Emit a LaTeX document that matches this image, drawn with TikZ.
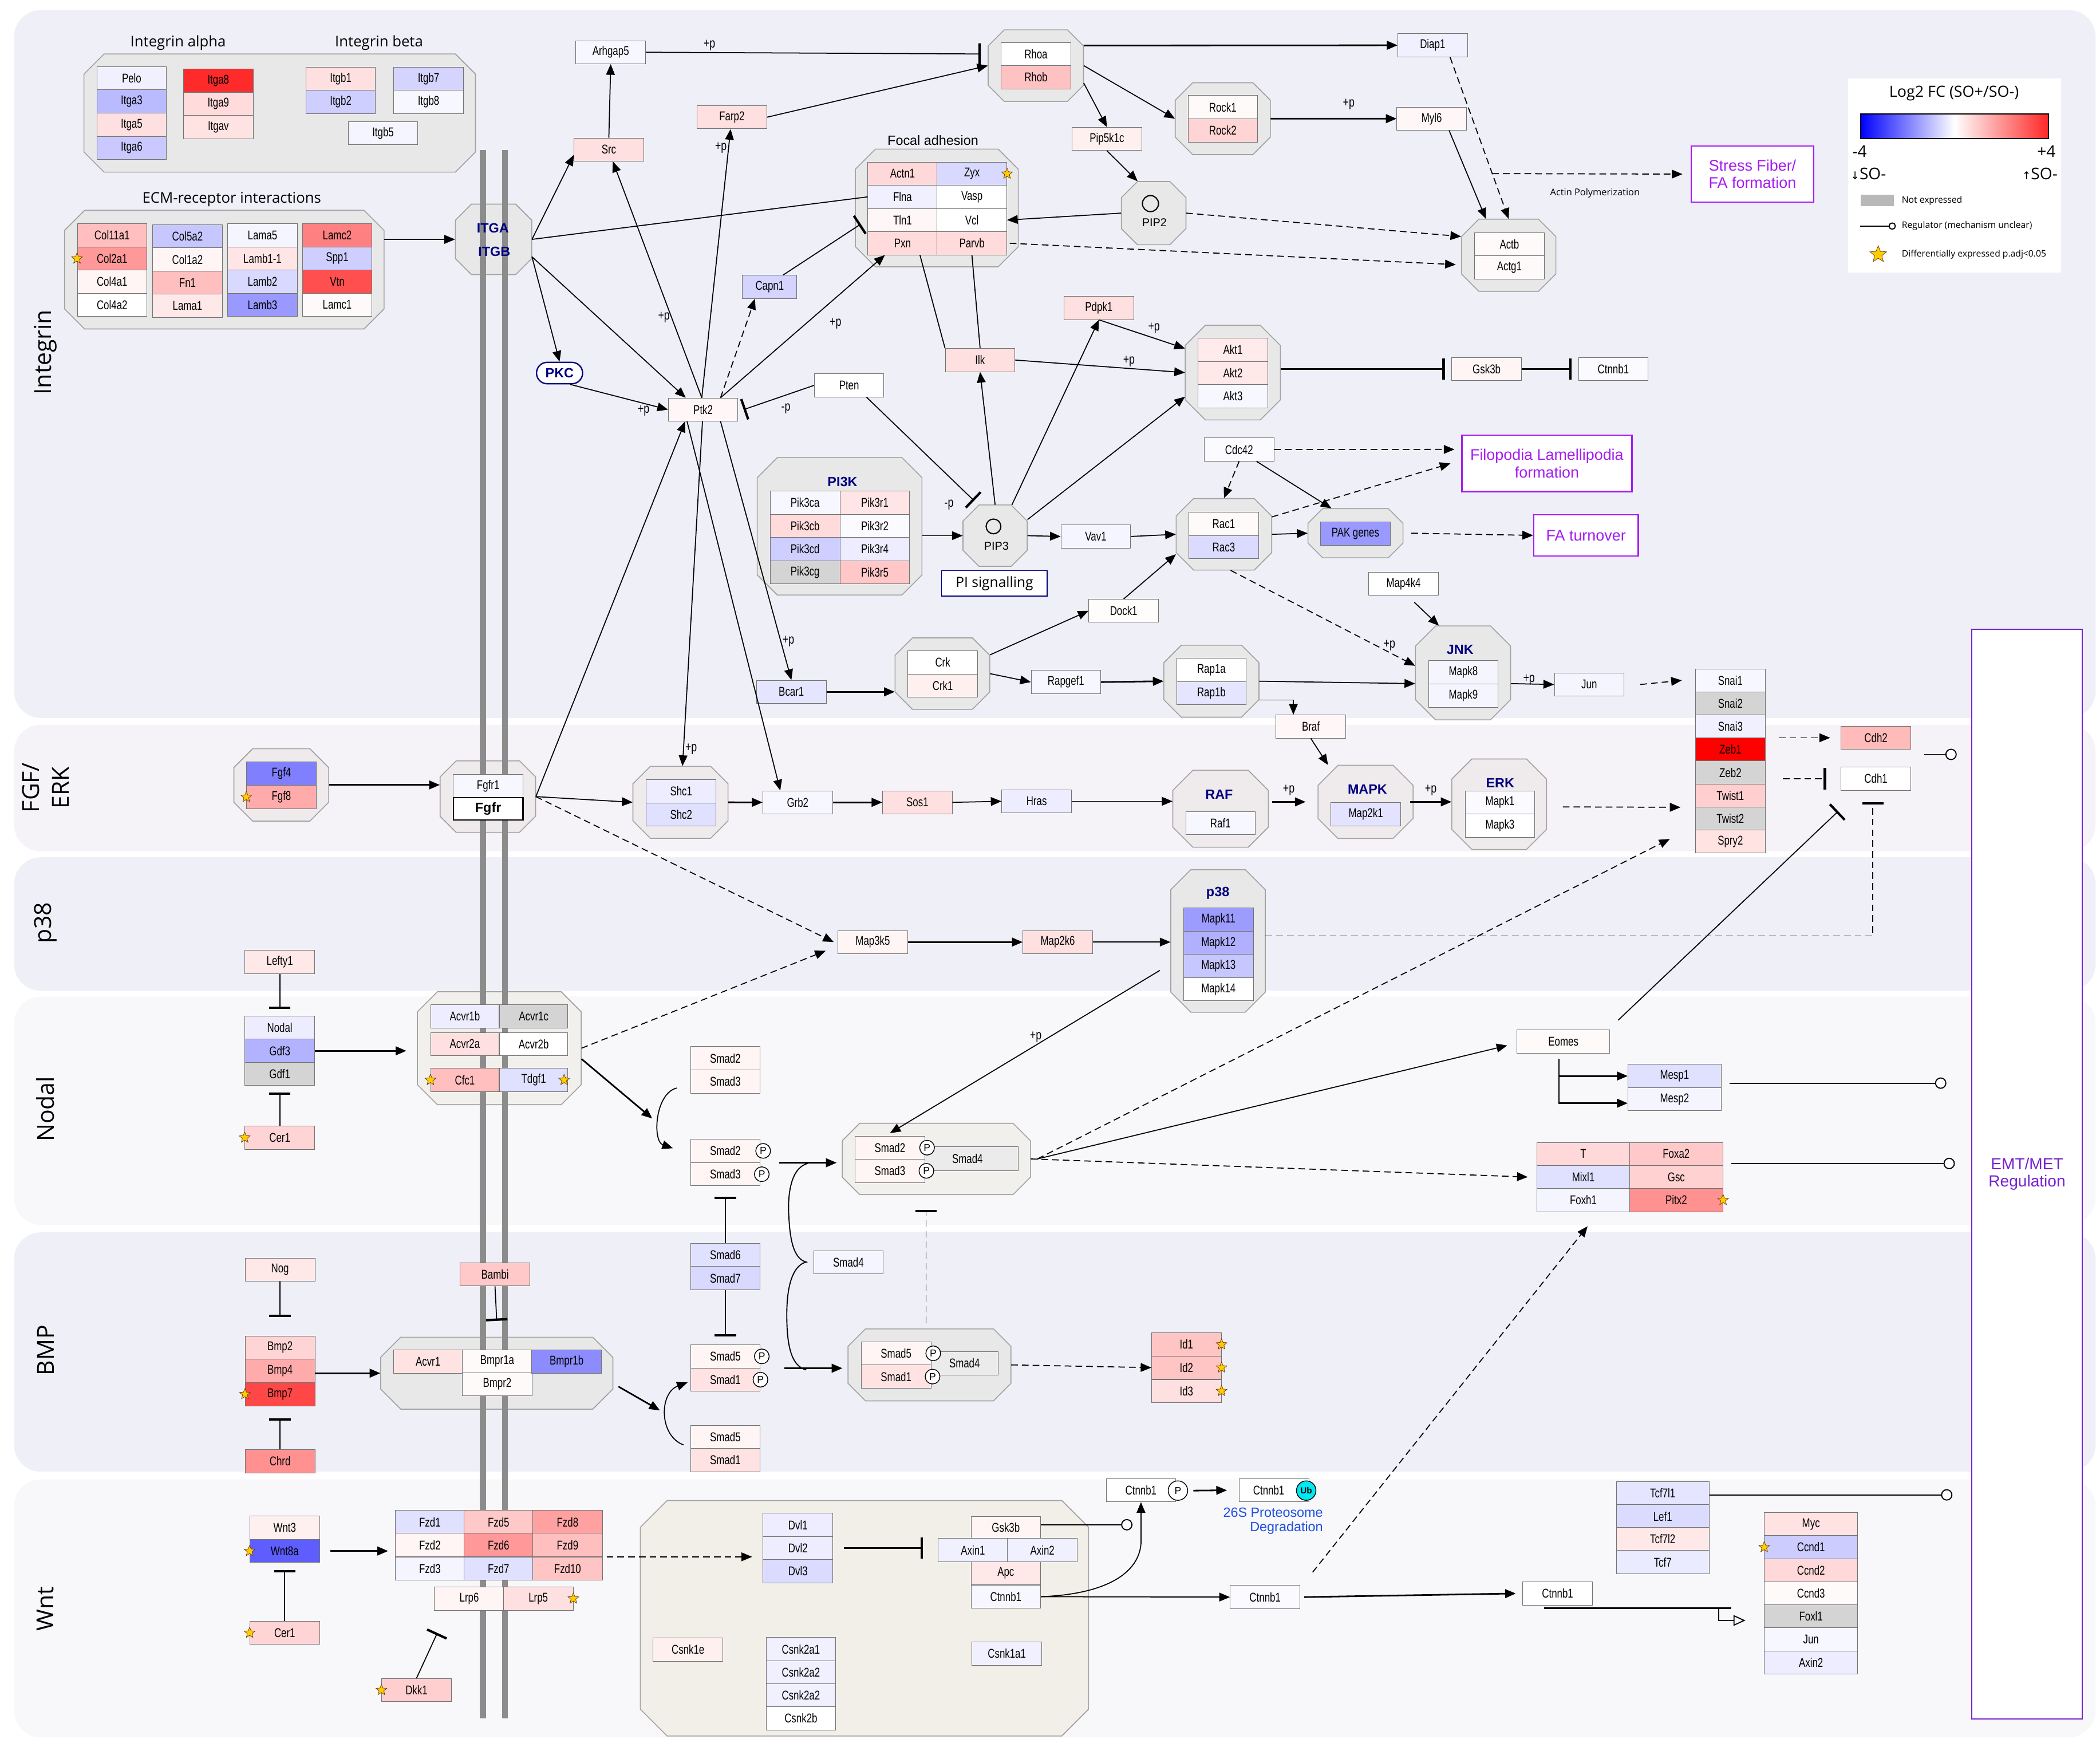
\documentclass[tikz,border=0pt]{standalone}
\usepackage{fontspec}
\setmainfont{Liberation Sans}
\newfontfamily\osans{Open Sans}
\newfontfamily\dvsans{DejaVu Sans}
\newfontfamily\genefam[FakeStretch=0.76]{Liberation Sans}
\usepackage{tikz}
\usetikzlibrary{positioning,arrows.meta,shapes.geometric,calc}
\definecolor{lanea}{HTML}{EFEFF8}
\definecolor{laneb}{HTML}{F6F3F8}
\definecolor{lanec}{HTML}{F8F7FA}
\definecolor{grpa}{HTML}{E8E8E8}
\definecolor{grpb}{HTML}{EFEBEC}
\definecolor{grpc}{HTML}{F2F0EC}
\definecolor{grpd}{HTML}{F2EFE9}
\definecolor{grpline}{HTML}{A3A3A3}
\definecolor{membr}{HTML}{8C8C8C}
\definecolor{cxblue}{HTML}{000080}
\definecolor{fate}{HTML}{A41CF2}
\definecolor{emt}{HTML}{7722D0}
\definecolor{degblue}{HTML}{1F4FE0}
\definecolor{starfill}{HTML}{FFCC00}
\definecolor{ubcyan}{HTML}{00E8F0}
\newcommand\genefont{\genefam\fontsize{9.5}{10}\selectfont}
% chamfered group box: [cut]{name}{style}{x1}{y1}{x2}{y2}
\newcommand\cplx[7][15]{%
  \draw[#3] (#4+#1,#5) -- (#6-#1,#5) -- (#6,#5+#1) -- (#6,#7-#1) -- (#6-#1,#7)
    -- (#4+#1,#7) -- (#4,#7-#1) -- (#4,#5+#1) -- cycle;
  \node[inner sep=0pt, minimum width=#6-#4, minimum height=#7-#5] (#2) at ({(#4+#6)/2},{(#5+#7)/2}) {};}

\begin{document}
\begin{tikzpicture}[x=1pt, y=-1pt,
  gene/.style={draw=black!55, line width=.4pt, minimum width=52pt, minimum height=17.3pt,
               inner sep=0pt, font=\genefont},
  wgene/.style={gene, minimum width=69.5pt},
  ng/.style={fill=black!17},
  ga/.style={fill=grpa, draw=grpline, line width=.7pt},
  gb/.style={ga, fill=grpb},
  gc/.style={ga, fill=grpc},
  gd/.style={ga, fill=grpd},
  cx/.style={font=\bfseries\fontsize{10}{10}\selectfont, text=cxblue, inner sep=0pt},
  hd/.style={font=\osans\fontsize{11}{12}\selectfont},
  lane/.style={rounded corners=20pt},
  lanelab/.style={font=\osans\fontsize{17.5}{22}\selectfont, rotate=90, align=center},
  arr/.style={-{Triangle[length=8pt,width=6.5pt]}, line width=.75pt},
  thk/.style={line width=1.2pt},
  dsh/.style={dash pattern=on 5pt off 3pt},
  inh/.style={-{Bar[width=16pt,line width=1.8pt]}, line width=.75pt},
  reg/.style={-{Circle[length=8.5pt,fill=white]}, line width=.8pt},
  lab/.style={font=\genefam\fontsize{10}{10}\selectfont, inner sep=1pt},
  dexp/.style={star, star points=5, star point ratio=2.3, minimum size=8.5pt, inner sep=0pt,
               fill=starfill, draw=black!60!orange, line width=.3pt},
  phos/.style={circle, draw, fill=white, line width=.6pt, minimum size=11pt, inner sep=0pt,
               font=\fontsize{7.5}{7.5}\selectfont},
  fatebox/.style={draw=fate, line width=1pt, fill=white, text=fate, align=center,
                  font=\fontsize{11.5}{13}\selectfont, inner sep=0pt},
  lip/.style={circle, draw, line width=.9pt, minimum size=12pt, inner sep=0pt}]
  \useasboundingbox (0,0) rectangle (1568,1298);
  % lanes
  \fill[lanea, lane] (10.5,7.5) rectangle (1564.7,536);
  \fill[laneb, lane] (10.5,541) rectangle (1564.7,635.6);
  \fill[lanea, lane] (10.5,640) rectangle (1564.7,739.7);
  \fill[lanec, lane] (10.5,744) rectangle (1564.7,914.4);
  \fill[lanea, lane] (10.5,920) rectangle (1564.7,1098.7);
  \fill[lanec, lane] (10.5,1104.4) rectangle (1564.7,1297);
  \node[lanelab] (lbint) at (34,263) {Integrin};
  \node[lanelab] (lbfgf) at (34,588) {FGF/\\ERK};
  \node[lanelab] (lbp38) at (34,689) {p38};
  \node[lanelab] (lbnod) at (34,828) {Nodal};
  \node[lanelab] (lbbmp) at (34,1008) {BMP};
  \node[lanelab] (lbwnt) at (34,1201) {Wnt};

  % complexes
  \cplx{intg}{ga}{62.7}{40.3}{355}{128.5}
  \cplx{ecm}{ga}{48.2}{157}{286.8}{245.6}
  \cplx[12]{itg}{ga}{340}{152.4}{397}{205}
  \cplx[12]{rho}{ga}{737.8}{22.3}{809}{75.7}
  \cplx[13]{rock}{ga}{877.5}{61.8}{948.5}{115.4}
  \cplx[12]{pip2}{ga}{837.3}{135.5}{885.5}{182.7}
  \cplx{fa}{ga}{638.7}{111.3}{760.3}{199.2}
  \cplx[13]{actb}{ga}{1091.2}{163.6}{1161.7}{217.5}
  \cplx{akt}{ga}{885}{242.8}{956}{313.5}
  \cplx{pi3k}{ga}{565.4}{341.6}{688.4}{444.2}
  \cplx[12]{pip3}{ga}{719}{377}{767}{422.8}
  \cplx[13]{rac}{ga}{878.2}{372.2}{949.5}{425.6}
  \cplx[11]{pak}{ga}{976.6}{379.7}{1047.6}{416.4}
  \cplx[13]{crk}{ga}{668.3}{476.2}{739}{529.6}
  \cplx[13]{rap}{ga}{869}{481.7}{940}{535.4}
  \cplx{jnk}{ga}{1056.9}{467.3}{1127.9}{537.4}
  \cplx[14]{fgf}{gb}{174.6}{559}{245.4}{613}
  \cplx[12]{fgfr}{gb}{328.6}{568}{399.9}{621.4}
  \cplx[13]{shc}{gb}{472.6}{572.1}{543.6}{625.8}
  \cplx{raf}{gb}{875.7}{575}{947}{632.5}
  \cplx{mapk}{gb}{984.1}{571.3}{1055.1}{626}
  \cplx{erk}{gb}{1084}{566.6}{1154.7}{634.2}
  \cplx{p38g}{ga}{874.2}{649.2}{944.7}{755.7}
  \cplx{acvr}{gc}{311.6}{740.4}{434}{824.7}
  \cplx[13]{sc234}{gc}{628.9}{838.6}{769.4}{891.8}
  \cplx{bmpr}{ga}{284.2}{998.3}{457.6}{1052}
  \cplx[13]{sc154}{ga}{633.2}{992.1}{754.8}{1045.8}
  \cplx[20]{dcx}{gd}{478.1}{1120.2}{812.8}{1296}

  % membrane
  \draw[membr, line width=4.5pt] (360.5,112) -- (360.5,1283) (377,112) -- (377,1283);

  % integrin alpha / beta
  \node[hd] (hintga) at (133,32) {Integrin alpha};
  \node[hd] (hintgb) at (283,32) {Integrin beta};
  \node[gene,fill=blue!6]  (pelo)  at (98.3,58.4)  {Pelo};
  \node[gene,fill=blue!27] (itga3) at (98.3,75.7)  {Itga3};
  \node[gene,fill=red!12]  (itga5) at (98.3,93.1)  {Itga5};
  \node[gene,fill=blue!21] (itga6) at (98.3,110.5) {Itga6};
  \node[gene,fill=red!83]  (itga8) at (163,60.1)   {Itga8};
  \node[gene,fill=red!14]  (itga9) at (163,77.5)   {Itga9};
  \node[gene,fill=red!11]  (itgav) at (163,94.9)   {Itgav};
  \node[gene,fill=red!12]  (itgb1) at (254.4,58.7) {Itgb1};
  \node[gene,fill=blue!19] (itgb2) at (254.4,76)   {Itgb2};
  \node[gene,fill=blue!17] (itgb7) at (320,58.7)   {Itgb7};
  \node[gene,fill=blue!3]  (itgb8) at (320,76)     {Itgb8};
  \node[gene,fill=blue!4]  (itgb5) at (286,99.3)   {Itgb5};

  % ECM
  \node[hd] (hecm) at (173,148.8) {ECM-receptor interactions};
  \node[gene,fill=red!25]  (col11a1) at (83.7,175.7) {Col11a1};
  \node[gene,fill=red!40]  (col2a1)  at (83.7,193)   {Col2a1};
  \node[gene,fill=red!4]   (col4a1)  at (83.7,210.3) {Col4a1};
  \node[gene,fill=white]   (col4a2)  at (83.7,227.6) {Col4a2};
  \node[gene,fill=blue!22] (col5a2)  at (140,176.4)  {Col5a2};
  \node[gene,fill=red!4]   (col1a2)  at (140,193.7)  {Col1a2};
  \node[gene,fill=red!25]  (fn1)     at (140,211)    {Fn1};
  \node[gene,fill=red!9]   (lama1)   at (140,228.3)  {Lama1};
  \node[gene,fill=blue!4]  (lama5)   at (196,175.7)  {Lama5};
  \node[gene,fill=red!10]  (lamb11)  at (196,193)    {Lamb1-1};
  \node[gene,fill=blue!15] (lamb2)   at (196,210.3)  {Lamb2};
  \node[gene,fill=blue!40] (lamb3)   at (196,227.6)  {Lamb3};
  \node[gene,fill=red!50]  (lamc2)   at (251.8,175.7) {Lamc2};
  \node[gene,fill=blue!19] (spp1)    at (251.8,193)   {Spp1};
  \node[gene,fill=red!69]  (vtn)     at (251.8,210.3) {Vtn};
  \node[gene,fill=red!2]   (lamc1)   at (251.8,227.6) {Lamc1};
  \node[dexp] (col2a1st) at (col2a1.west) {};
  \node[cx] (itgatx) at (368,170.5) {ITGA};
  \node[cx] (itgbtx) at (369,187.8) {ITGB};

  % integrin signalling
  \node[gene,fill=blue!3]  (arhgap5) at (456,39)     {Arhgap5};
  \node[gene,fill=red!12]  (src)     at (454.6,111.7) {Src};
  \node[gene,fill=red!12]  (farp2)   at (546.5,87.5) {Farp2};
  \node[gene,fill=white]   (rhoa)    at (773.5,40.3) {Rhoa};
  \node[gene,fill=red!24]  (rhob)    at (773.5,57.7) {Rhob};
  \node[gene,fill=blue!6]  (diap1)   at (1069.7,33.8) {Diap1};
  \node[gene,fill=red!2]   (rock1)   at (913,80)     {Rock1};
  \node[gene,fill=red!17]  (rock2)   at (913,97.4)   {Rock2};
  \node[gene,fill=red!3]   (myl6)    at (1069,88.6)  {Myl6};
  \node[gene,fill=red!6]   (pip5k1c) at (826.5,103.7) {Pip5k1c};
  \node[lip] (pip2c) at (859,152) {};
  \node[font=\fontsize{8.5}{9}\selectfont] (pip2tx) at (862,166) {PIP2};
  \node[font=\fontsize{10}{10}\selectfont] (hfa) at (696.6,104.9) {Focal adhesion};
  \node[gene,fill=red!15]  (actn1) at (673.9,129.7) {Actn1};
  \node[gene,fill=blue!6]  (flna)  at (673.9,147)   {Flna};
  \node[gene,fill=red!3]   (tln1)  at (673.9,164.3) {Tln1};
  \node[gene,fill=red!14]  (pxn)   at (673.9,181.6) {Pxn};
  \node[gene,fill=blue!15] (zyx)   at (725.7,129.7) {Zyx};
  \node[gene,fill=white]   (vasp)  at (725.7,147)   {Vasp};
  \node[gene,fill=white]   (vcl)   at (725.7,164.3) {Vcl};
  \node[gene,fill=red!14]  (parvb) at (725.7,181.6) {Parvb};
  \node[dexp] (zyxst) at (zyx.east) {};
  \node[gene,fill=red!2]   (actbg)  at (1127,182.2) {Actb};
  \node[gene,fill=red!2]   (actg1)  at (1127,199.6) {Actg1};
  \node[gene,fill=blue!17,minimum width=40.6pt] (capn1) at (574.7,214.2) {Capn1};
  \node[draw=cxblue, line width=1pt, fill=white, rounded corners=8pt, minimum width=34.4pt,
        minimum height=16pt, inner sep=0pt, font=\bfseries\fontsize{10}{10}\selectfont,
        text=cxblue] (pkc) at (417.8,278.5) {PKC};
  \node[gene,fill=red!3]   (ptk2)  at (525,305.8)   {Ptk2};
  \node[gene,fill=white]   (pten)  at (634,287.7)   {Pten};
  \node[gene,fill=red!12]  (ilk)   at (731.8,268.8) {Ilk};
  \node[gene,fill=red!12]  (pdpk1) at (820.5,229.9) {Pdpk1};
  \node[gene,fill=red!8]   (akt1)  at (920.6,261.1) {Akt1};
  \node[gene,fill=red!9]   (akt2)  at (920.6,278.4) {Akt2};
  \node[gene,fill=blue!3]  (akt3)  at (920.6,295.7) {Akt3};
  \node[gene,fill=red!4]   (gsk3b) at (1110,275.4)  {Gsk3b};
  \node[gene,fill=blue!2]  (ctnnbi) at (1204.6,275.4) {Ctnnb1};
  \node[cx] (pi3ktx) at (629,359.7) {PI3K};
  \node[gene,fill=blue!3]  (pik3ca) at (601.1,375.3) {Pik3ca};
  \node[gene,fill=red!14]  (pik3cb) at (601.1,392.6) {Pik3cb};
  \node[gene,fill=blue!19] (pik3cd) at (601.1,409.9) {Pik3cd};
  \node[gene,ng]           (pik3cg) at (601.1,427.2) {Pik3cg};
  \node[gene,fill=red!10]  (pik3r1) at (653.2,375.3) {Pik3r1};
  \node[gene,fill=blue!2]  (pik3r2) at (653.2,392.6) {Pik3r2};
  \node[gene,fill=blue!7]  (pik3r4) at (653.2,409.9) {Pik3r4};
  \node[gene,fill=red!22]  (pik3r5) at (653.2,427.2) {Pik3r5};
  \node[lip,minimum size=11pt] (pip3c) at (741.8,393) {};
  \node[font=\fontsize{8.5}{9}\selectfont] (pip3tx) at (744,407.5) {PIP3};
  \node[draw=cxblue, line width=.8pt, fill=white, minimum width=79pt, minimum height=19pt,
        inner sep=0pt, font=\osans\fontsize{10.5}{11}\selectfont] (pisig) at (742.5,435.5) {PI signalling};
  \node[gene,fill=blue!2]  (cdc42) at (925.2,335.6) {Cdc42};
  \node[gene,fill=red!2]   (rac1)  at (913.7,391.1) {Rac1};
  \node[gene,fill=blue!14] (rac3)  at (913.7,408.4) {Rac3};
  \node[gene,fill=blue!40] (pakg)  at (1012,398.3)  {PAK genes};
  \node[gene,fill=blue!4]  (vav1)  at (818.2,400.5) {Vav1};
  \node[gene,fill=red!1]   (dock1) at (839,456)     {Dock1};
  \node[gene,fill=white]   (map4k4) at (1048,435.8) {Map4k4};
  \node[gene,fill=blue!10] (bcar1) at (590.9,516.5) {Bcar1};
  \node[gene,fill=white]   (crkg)  at (703.9,494.6) {Crk};
  \node[gene,fill=red!6]   (crk1)  at (703.9,511.9) {Crk1};
  \node[gene,fill=blue!3]  (rapgef1) at (795.9,509.2) {Rapgef1};
  \node[gene,fill=white]   (rap1a) at (904.5,500.1) {Rap1a};
  \node[gene,fill=blue!10] (rap1b) at (904.5,517.4) {Rap1b};
  \node[gene,fill=red!3]   (braf)  at (978.7,542.4) {Braf};
  \node[cx] (jnktx) at (1090.2,485) {JNK};
  \node[gene,fill=blue!4]  (mapk8) at (1092.6,501.9) {Mapk8};
  \node[gene,fill=blue!4]  (mapk9) at (1092.6,519.3) {Mapk9};
  \node[gene,fill=blue!4]  (jun)   at (1186.6,511)   {Jun};
  \node[gene,fill=blue!3,minimum height=17.2pt]  (snai1)  at (1292,507.9) {Snai1};
  \node[gene,ng,minimum height=17.2pt]           (snai2)  at (1292,525.1) {Snai2};
  \node[gene,fill=blue!6,minimum height=17.2pt]  (snai3)  at (1292,542.3) {Snai3};
  \node[gene,fill=red,minimum height=17.2pt]     (zeb1)   at (1292,559.5) {Zeb1};
  \node[gene,ng,minimum height=17.2pt]           (zeb2)   at (1292,576.7) {Zeb2};
  \node[gene,fill=red!19,minimum height=17.2pt]  (twist1) at (1292,593.9) {Twist1};
  \node[gene,ng,minimum height=17.2pt]           (twist2) at (1292,611.1) {Twist2};
  \node[gene,fill=red!11,minimum height=17.2pt]  (spry2)  at (1292,628.3) {Spry2};

  % outcomes
  \node[fatebox, minimum width=127pt, minimum height=42pt] (filo) at (1155,346) {Filopodia Lamellipodia\\formation};
  \node[fatebox, minimum width=78pt, minimum height=30.6pt] (fato) at (1184.2,399.7) {FA turnover};
  \node[fatebox, minimum width=91.5pt, minimum height=42pt] (sfib) at (1308.5,130) {Stress Fiber/\\FA formation};
  \node[draw=emt, line width=1pt, fill=white, minimum width=82.4pt, minimum height=813.5pt, inner sep=0pt,
        text=emt, align=center, font=\fontsize{12}{13}\selectfont] (emtbox) at (1513.5,876.5) {EMT/MET\\Regulation};

  % legend
  \node[fill=white, minimum width=159pt, minimum height=145.2pt, inner sep=0pt] (legend) at (1459.5,131) {};
  \node[font=\osans\fontsize{11.5}{12}\selectfont] (legt) at (1459,69.5) {Log2 FC (SO+/SO-)};
  \shade[left color=blue, right color=red!85, middle color=white] (1389.2,85) rectangle (1529.6,103.5);
  \draw[line width=1pt] (1389.2,85) rectangle (1529.6,103.5);
  \node[font=\osans\fontsize{12}{12}\selectfont] (lgm) at (1388.5,113.2) {-4};
  \node[font=\osans\fontsize{12}{12}\selectfont] (lgp) at (1528,113.2) {+4};
  \node[font=\osans\fontsize{12}{12}\selectfont] (lgdn) at (1395,129.6) {{\dvsans\fontsize{8}{8}\selectfont ↓}SO-};
  \node[font=\osans\fontsize{12}{12}\selectfont] (lgup) at (1523,129.6) {{\dvsans\fontsize{8}{8}\selectfont ↑}SO-};
  \fill[black!28] (1389.2,145.5) rectangle (1414.3,153.8);
  \node[anchor=west, font=\osans\fontsize{6.7}{7}\selectfont] (lgne) at (1416.5,150) {Not expressed};
  \coordinate (lgr1) at (1389,168.8);
  \coordinate (lgr2) at (1415.6,168.8);
  \draw[-{Circle[length=5.5pt,fill=white]}, line width=.8pt] (lgr1) -- (lgr2);
  \node[anchor=west, font=\osans\fontsize{6.7}{7}\selectfont] (lgrg) at (1416.5,168.8) {Regulator (mechanism unclear)};
  \node[dexp, minimum size=13pt] (lgst) at (1402.4,190) {};
  \node[anchor=west, font=\osans\fontsize{6.7}{7}\selectfont] (lgde) at (1416.5,190) {Differentially expressed p.adj<0.05};

  % FGF / ERK
  \node[gene,fill=blue!50] (fgf4) at (210.1,577.6) {Fgf4};
  \node[gene,fill=red!33]  (fgf8) at (210.1,595)   {Fgf8};
  \node[dexp] (fgf8st) at (fgf8.west) {};
  \node[gene,fill=blue!3]  (fgfr1) at (364.5,586.8) {Fgfr1};
  \node[gene,fill=white,draw=black,line width=.9pt,minimum height=16.5pt,
        font=\bfseries\fontsize{10}{10}\selectfont] (fgfrb) at (364.5,603.8) {Fgfr};
  \node[gene,fill=blue!7]  (shc1) at (508.6,590.7) {Shc1};
  \node[gene,fill=blue!12] (shc2) at (508.6,608.1) {Shc2};
  \node[gene,fill=blue!3]  (grb2) at (595.6,599)   {Grb2};
  \node[gene,fill=red!12]  (sos1) at (685,599)     {Sos1};
  \node[gene,fill=blue!7]  (hras) at (774,598.2)   {Hras};
  \node[cx] (raftx) at (910.3,593) {RAF};
  \node[gene,fill=blue!3]  (raf1) at (911.3,614.5) {Raf1};
  \node[cx] (mapktx) at (1021,589.4) {MAPK};
  \node[gene,fill=blue!11] (map2k1) at (1019.8,607.8) {Map2k1};
  \node[cx] (erktx) at (1120.1,584.7) {ERK};
  \node[gene,fill=blue!2]  (mapk1) at (1120,599)   {Mapk1};
  \node[gene,fill=white]   (mapk3) at (1120,616.4) {Mapk3};
  \node[gene,fill=red!27]  (cdh2)  at (1400.7,550.8) {Cdh2};
  \node[gene,fill=white]   (cdh1)  at (1400.7,581.3) {Cdh1};

  % p38
  \node[gene,fill=red!4]   (map3k5) at (651.7,703.3) {Map3k5};
  \node[gene,fill=red!12]  (map2k6) at (789.8,703.3) {Map2k6};
  \node[cx] (p38tx) at (909.3,666.7) {p38};
  \node[gene,fill=blue!39] (mapk11) at (909.8,686.5) {Mapk11};
  \node[gene,fill=blue!31] (mapk12) at (909.8,703.8) {Mapk12};
  \node[gene,fill=blue!22] (mapk13) at (909.8,721.1) {Mapk13};
  \node[gene,fill=white]   (mapk14) at (909.8,738.4) {Mapk14};
  \node[gene,fill=red!9]   (lefty1) at (208.9,718.2) {Lefty1};

  % Nodal
  \node[gene,fill=blue!7]  (nodal) at (208.9,767.2) {Nodal};
  \node[gene,fill=blue!30] (gdf3)  at (208.9,784.5) {Gdf3};
  \node[gene,ng]           (gdf1)  at (208.9,801.8) {Gdf1};
  \node[gene,fill=red!17]  (cer1)  at (208.9,849.3) {Cer1};
  \node[dexp] (cer1st) at (cer1.west) {};
  \node[gene,fill=blue!7,minimum width=51pt]  (acvr1b) at (347.1,758.7) {Acvr1b};
  \node[gene,ng,minimum width=51pt]           (acvr1c) at (398.5,758.7) {Acvr1c};
  \node[gene,fill=red!12,minimum width=51pt]  (acvr2a) at (347.1,779.4) {Acvr2a};
  \node[gene,fill=white,minimum width=51pt]   (acvr2b) at (398.5,779.4) {Acvr2b};
  \node[gene,fill=red!25,minimum width=51pt]  (cfc1)   at (347.1,806.3) {Cfc1};
  \node[gene,fill=blue!12,minimum width=51pt] (tdgf1)  at (398.5,806.3) {Tdgf1};
  \node[dexp] (cfc1st) at (cfc1.west) {};
  \node[dexp] (tdgf1st) at ([xshift=-3pt]tdgf1.east) {};
  \node[gene,fill=red!4]   (smad2)  at (541.6,790)   {Smad2};
  \node[gene,fill=red!4]   (smad3)  at (541.6,807.4) {Smad3};
  \node[gene,fill=red!4]   (smad2p) at (541.6,859.2) {Smad2};
  \node[gene,fill=red!4]   (smad3p) at (541.6,876.6) {Smad3};
  \node[phos] (smad2pp) at ([xshift=2pt]smad2p.east) {P};
  \node[phos] (smad3pp) at ([xshift=1pt]smad3p.east) {P};
  \node[gene,fill=black!8,minimum width=70pt,minimum height=18pt] (smad4c) at (725.35,864.9) {\hspace*{-6pt}Smad4};
  \node[gene,fill=red!4]   (smad2c) at (664.5,856.8) {Smad2};
  \node[gene,fill=red!4]   (smad3c) at (664.5,874.1) {Smad3};
  \node[phos] (smad2cp) at ([xshift=1.5pt]smad2c.east) {P};
  \node[phos] (smad3cp) at ([xshift=1pt]smad3c.east) {P};
  \node[wgene,fill=red!2,minimum width=69.4pt] (eomes) at (1167.3,777.5) {Eomes};
  \node[wgene,fill=blue!12] (mesp1) at (1250.3,803.3) {Mesp1};
  \node[wgene,fill=blue!4]  (mesp2) at (1250.3,820.6) {Mesp2};
  \node[wgene,fill=red!15]  (tbra)  at (1182.2,861.5) {T};
  \node[wgene,fill=blue!12] (mixl1) at (1182.2,878.7) {Mixl1};
  \node[wgene,fill=blue!4]  (foxh1) at (1182.2,895.9) {Foxh1};
  \node[wgene,fill=red!21]  (foxa2) at (1251.6,861.5) {Foxa2};
  \node[wgene,fill=red!18]  (gsc)   at (1251.6,878.7) {Gsc};
  \node[wgene,fill=red!43]  (pitx2) at (1251.6,895.9) {Pitx2};
  \node[dexp] (pitx2st) at (pitx2.east) {};

  % BMP
  \node[gene,fill=red!9]   (nog)  at (209.1,947.9)  {Nog};
  \node[gene,fill=red!17]  (bmp2) at (209.1,1006)   {Bmp2};
  \node[gene,fill=red!33]  (bmp4) at (209.1,1023.4) {Bmp4};
  \node[gene,fill=red!72]  (bmp7) at (209.1,1040.8) {Bmp7};
  \node[dexp] (bmp7st) at (bmp7.west) {};
  \node[gene,fill=red!43]  (chrd) at (209.1,1090.9) {Chrd};
  \node[gene,fill=red!11,minimum width=51.2pt] (acvr1) at (319.6,1016.6) {Acvr1};
  \node[gene,fill=red!2]   (bmpr1a) at (371.25,1016.3) {Bmpr1a};
  \node[gene,fill=red!2]   (bmpr2)  at (371.25,1033.4) {Bmpr2};
  \node[gene,fill=blue!45] (bmpr1b) at (423.05,1016.5) {Bmpr1b};
  \node[gene,fill=red!21]  (bambi)  at (369.6,951.4)  {Bambi};
  \node[gene,fill=blue!12] (smad6)  at (541.6,936.8)  {Smad6};
  \node[gene,fill=blue!15] (smad7)  at (541.6,954.2)  {Smad7};
  \node[gene,fill=red!4]   (smad5p) at (541.6,1012.6) {Smad5};
  \node[gene,fill=red!11]  (smad1p) at (541.6,1030)   {Smad1};
  \node[phos] (smad5pp) at ([xshift=1pt]smad5p.east) {P};
  \node[phos] (smad1pp) at (smad1p.east) {P};
  \node[gene,fill=red!4]   (smad5)  at (541.6,1072.7) {Smad5};
  \node[gene,fill=red!11]  (smad1)  at (541.6,1090)   {Smad1};
  \node[gene,fill=blue!4]  (smad4m) at (633.5,942.3)  {Smad4};
  \node[gene,fill=black!8,minimum width=50.2pt,minimum height=17.6pt] (smad4b) at (720.2,1017.8) {Smad4};
  \node[gene,fill=red!4]   (smad5b) at (669.1,1010.3) {Smad5};
  \node[gene,fill=red!11]  (smad1b) at (669.1,1027.7) {Smad1};
  \node[phos] (smad5bp) at ([xshift=1.5pt]smad5b.east) {P};
  \node[phos] (smad1bp) at ([xshift=1pt]smad1b.east) {P};
  \node[gene,fill=red!23] (id1) at (885.9,1003.7) {Id1};
  \node[gene,fill=red!23] (id2) at (885.9,1021)   {Id2};
  \node[gene,fill=red!12] (id3) at (885.9,1038.5) {Id3};
  \node[dexp] (id1st) at (id1.east) {};
  \node[dexp] (id2st) at (id2.east) {};
  \node[dexp] (id3st) at (id3.east) {};

  % Wnt
  \node[gene,fill=red!6]   (wnt3)  at (212.6,1140.5) {Wnt3};
  \node[gene,fill=blue!63] (wnt8a) at (212.6,1157.9) {Wnt8a};
  \node[dexp] (wnt8ast) at (wnt8a.west) {};
  \node[gene,fill=red!17]  (cer1w) at (212.6,1219)   {Cer1};
  \node[dexp] (cer1wst) at (cer1w.west) {};
  \node[gene,fill=blue!12] (fzd1)  at (321,1136.3)    {Fzd1};
  \node[gene,fill=red!4]   (fzd2)  at (321,1153.4)    {Fzd2};
  \node[gene,fill=blue!4]  (fzd3)  at (321,1171)      {Fzd3};
  \node[gene,fill=red!21]  (fzd5)  at (372.25,1136.3) {Fzd5};
  \node[gene,fill=red!40]  (fzd6)  at (372.25,1153.4) {Fzd6};
  \node[gene,fill=blue!12] (fzd7)  at (372.25,1171)   {Fzd7};
  \node[gene,fill=red!37]  (fzd8)  at (423.8,1136.3)  {Fzd8};
  \node[gene,fill=red!25]  (fzd9)  at (423.8,1153.4)  {Fzd9};
  \node[gene,fill=red!23]  (fzd10) at (423.8,1171)    {Fzd10};
  \node[gene,fill=red!4]   (lrp6)  at (350.35,1193.4) {Lrp6};
  \node[gene,fill=red!12]  (lrp5)  at (401.9,1193.4)  {Lrp5};
  \node[dexp] (lrp5st) at (lrp5.east) {};
  \node[gene,fill=red!19]  (dkk1)  at (311,1261.7)    {Dkk1};
  \node[dexp] (dkk1st) at (dkk1.west) {};
  \node[gene,fill=blue!7]  (dvl1)  at (595.8,1138.4) {Dvl1};
  \node[gene,fill=blue!7]  (dvl2)  at (595.8,1155.7) {Dvl2};
  \node[gene,fill=blue!14] (dvl3)  at (595.8,1173)   {Dvl3};
  \node[gene,fill=red!4,minimum height=16.5pt] (gsk3bw) at (751,1140.25) {Gsk3b};
  \node[gene,fill=blue!6]  (axin1)  at (726.5,1157.25) {Axin1};
  \node[gene,fill=blue!6]  (axin2d) at (778.3,1157.25) {Axin2};
  \node[gene,fill=red!9]   (apc)    at (751,1174.5) {Apc};
  \node[gene,fill=blue!3]  (ctnnbd) at (751,1192)   {Ctnnb1};
  \node[gene,fill=red!6]   (csnk1e) at (513.7,1231.5) {Csnk1e};
  \node[gene,fill=blue!6]  (csnk2a1) at (598,1231.2) {Csnk2a1};
  \node[gene,fill=blue!6]  (csnk2a2) at (598,1248.4) {Csnk2a2};
  \node[gene,fill=blue!6]  (csnk2a2b) at (598,1265.6) {Csnk2a2};
  \node[gene,fill=white]   (csnk2b) at (598,1282.8) {Csnk2b};
  \node[gene,fill=blue!6]  (csnk1a1) at (751.8,1234.5) {Csnk1a1};
  \node[gene,fill=white]   (ctnnbp)  at (851.9,1112.55) {Ctnnb1};
  \node[phos,minimum size=14.5pt] (ctnnbpp) at (879.5,1112.8) {P};
  \node[gene,fill=white]   (ctnnbub) at (951.35,1112.55) {\hspace*{-8pt}Ctnnb1};
  \node[circle,draw,fill=ubcyan,line width=.6pt,minimum size=14.5pt,inner sep=0pt,
        font=\bfseries\fontsize{6.5}{7}\selectfont] (ubc) at (975.3,1112.8) {Ub};
  \node[align=right, text=degblue, font=\fontsize{10}{11}\selectfont, anchor=north east,
        inner sep=0pt] (degr) at (988,1125.3) {26S Proteosome\\Degradation};
  \node[gene,fill=blue!2]  (ctnnbc) at (944.6,1192.3) {Ctnnb1};
  \node[gene,fill=white]   (ctnnbn) at (1163,1189.6)  {Ctnnb1};
  \node[wgene,fill=blue!10,minimum width=69.4pt] (tcf7l1) at (1241.5,1114.8) {Tcf7l1};
  \node[wgene,fill=blue!14,minimum width=69.4pt] (lef1)   at (1241.5,1132)   {Lef1};
  \node[wgene,fill=red!9,minimum width=69.4pt]   (tcf7l2) at (1241.5,1149)   {Tcf7l2};
  \node[wgene,fill=blue!8,minimum width=69.4pt]  (tcf7)   at (1241.5,1166.2) {Tcf7};
  \node[wgene,fill=red!11,minimum height=17.2pt] (myc)    at (1352.2,1137.8) {Myc};
  \node[wgene,fill=blue!20,minimum height=17.2pt] (ccnd1) at (1352.2,1155)   {Ccnd1};
  \node[dexp] (ccnd1st) at (ccnd1.west) {};
  \node[wgene,fill=red!15,minimum height=17.2pt] (ccnd2)  at (1352.2,1172.2) {Ccnd2};
  \node[wgene,fill=red!2,minimum height=17.2pt]  (ccnd3)  at (1352.2,1189.4) {Ccnd3};
  \node[wgene,ng,minimum height=17.2pt]          (foxl1)  at (1352.2,1206.6) {Foxl1};
  \node[wgene,fill=blue!3,minimum height=17.2pt] (junm)   at (1352.2,1223.8) {Jun};
  \node[wgene,fill=blue!7,minimum height=17.2pt] (axin2m) at (1352.2,1241)   {Axin2};

  % regulator ends
  \coordinate (rg1) at (1461,563.2);
  \coordinate (rg2) at (1453.3,808.6);
  \coordinate (rg3) at (1459.6,868.6);
  \coordinate (rg4) at (1457.8,1116);
  \coordinate (rg5) at (845.6,1138.3);

  % integrin connectors
  \draw[arr] (ecm.east |- itg.west) -- (itg.west);
  \draw[arr] (itg.east) -- ([yshift=-4pt]src.west);
  \draw[line width=.75pt] (itg.east) -- (flna.west);
  \draw[arr] ([yshift=-13pt]itg.east) -- (pkc.north);
  \draw[arr] ([yshift=-13pt]itg.east) -- ([xshift=-13pt]ptk2.north);
  \draw[arr] ([xshift=8pt]pkc.south) -- (ptk2.west) node[lab,pos=.75,below]{+p};
  \draw[arr] ([xshift=-1pt]ptk2.north) -- ([xshift=3pt]src.south) node[lab,pos=.34,left]{+p};
  \draw[arr] ([xshift=-1pt]ptk2.north) -- ([xshift=-1pt]farp2.south) node[lab,pos=.93,left]{+p};
  \draw[arr,dsh] ([xshift=13pt]ptk2.north) -- ([xshift=-11pt]capn1.south);
  \draw[arr] ([xshift=13pt]ptk2.north) -- ([xshift=13pt]pxn.south west) node[lab,pos=.52,xshift=22pt]{+p};
  \draw[inh] ([xshift=10pt]capn1.north) -- ([xshift=-5pt,yshift=-3pt]tln1.west);
  \draw[inh] (arhgap5.east) -- ([xshift=-15pt]rhoa.west) node[lab,pos=.19,above]{+p};
  \draw[arr] (farp2.east) -- (rho.west);
  \draw[arr] (src.north) -- (arhgap5.south);
  \draw[arr,thk] ([yshift=15pt]rho.east) -- (diap1.west);
  \draw[arr] (rho.east) -- (rock.west);
  \draw[arr] ([yshift=-13pt]rho.east) -- (pip5k1c.north);
  \draw[arr] (pip5k1c.south) -- ([xshift=-12pt]pip2.north);
  \draw[arr] (pip2.west) -- (vcl.east);
  \draw[arr,dsh] (pip2.east) -- ([yshift=14pt]actb.west);
  \draw[arr,dsh] ([xshift=2pt]parvb.east) -- ([xshift=-4pt,yshift=-7pt]actb.west);
  \draw[arr,thk] (rock.east) -- (myl6.west) node[lab,pos=.62,above=5pt]{+p};
  \draw[arr] ([xshift=13pt]myl6.south) -- ([xshift=-17pt]actb.north);
  \draw[arr,dsh] ([xshift=13pt]diap1.south) -- (actb.north) coordinate[pos=.72] (actpol);
  \draw[arr,dsh] (actpol) -- ([xshift=-6pt]sfib.west)
    node[pos=.54,below=7pt,font=\osans\fontsize{7}{8}\selectfont]{Actin Polymerization};
  \draw[inh] (pten.west) -- ([xshift=4pt]ptk2.east) node[lab,pos=.4,below=5pt]{-p};
  \draw[inh] ([xshift=13pt]pten.south) -- ([xshift=-15.7pt,yshift=3pt]pip3.north)
    node[lab,pos=1,left=14pt,yshift=-3pt]{-p};
  \draw[arr] (pi3k.east |- pip3.west) -- (pip3.west);
  \draw[arr] (pip3.north) -- (ilk.south);
  \draw[line width=.75pt] ([xshift=13pt]pxn.south) -- (ilk.north west);
  \draw[line width=.75pt] (parvb.south) -- (ilk.north);
  \draw[arr] (ilk.east) -- (akt.west) node[lab,pos=.67,above]{+p};
  \draw[arr] ([xshift=12.6pt]pip3.north) -- (pdpk1.south);
  \draw[arr] (pdpk1.south) -- ([yshift=18pt]akt.west) node[lab,pos=.64,above=2pt]{+p};
  \draw[arr] ([yshift=12pt]pip3.east) -- ([yshift=-18pt]akt.west);
  \draw[inh,thk] (akt.east |- gsk3b.west) -- ([xshift=-5pt]gsk3b.west);
  \draw[inh,thk] (gsk3b.east) -- ([xshift=-5pt]ctnnbi.west);
  \draw[arr] (pip3.east) -- (vav1.west);
  \draw[arr] (vav1.east) -- (rac.west);
  \draw[arr,dsh] (cdc42.east) -- ([xshift=-5pt,yshift=10.5pt]filo.west);
  \draw[arr,dsh] (cdc42.south) -- (rac.north);
  \draw[arr] ([xshift=13pt]cdc42.south) -- ([xshift=-18pt]pak.north);
  \draw[arr,dsh] ([yshift=13pt]rac.east) -- ([xshift=-8pt]filo.west);
  \draw[arr] (rac.east) -- (pak.west);
  \draw[arr,dsh] ([xshift=6pt]pak.east) -- (fato.west);
  \draw[arr] (dock1.north) -- ([yshift=12pt]rac.south west);
  \draw[arr,dsh] ([xshift=5pt]rac.south) -- ([yshift=5.3pt]jnk.west) node[lab,pos=.86,above]{+p};
  \draw[arr] ([yshift=14pt]crk.east) -- (dock1.west);
  \draw[arr] (crk.east) -- (rapgef1.west);
  \draw[arr,thk] (bcar1.east) -- (crk.west |- bcar1.east);
  \draw[arr,thk] (rapgef1.east) -- (rap.west);
  \draw[arr] (rap.east) -- ([yshift=-8pt]jnk.west);
  \draw[arr] ([yshift=-14pt]rap.east) -| ([xshift=-13pt]braf.north);
  \draw[arr] (braf.south) -- ([xshift=-28pt]mapk.north);
  \draw[arr] ([xshift=8pt,yshift=-5pt]map4k4.south) -- ([xshift=-18pt]jnk.north);
  \draw[arr] ([yshift=-8pt]jnk.east) -- (jun.west) node[lab,pos=.42,yshift=3pt]{+p};
  \draw[arr,dsh] ([xshift=12pt]jun.east) -- ([xshift=-10pt]snai1.west);

  % FGF / ERK connectors
  \draw[arr] (fgfr.east) -- ([xshift=-13.5pt]ptk2.south);
  \draw[arr] ([xshift=-.5pt]ptk2.south) -- ([xshift=1.5pt]shc.north) node[lab,pos=.95,right]{+p};
  \draw[arr] ([xshift=-12pt]ptk2.south) -- ([xshift=-13pt]grb2.north);
  \draw[arr] ([xshift=13pt]ptk2.south) -- (bcar1.north) node[lab,pos=.85,right]{+p};
  \draw[arr,thk] (fgf.east) -- (fgfr.west |- fgf.east);
  \draw[arr] (fgfr.east) -- (shc.west);
  \draw[arr,dsh] (fgfr.east) -- ([xshift=-3pt]map3k5.west);
  \draw[arr,thk] (shc.east) -- (grb2.west);
  \draw[arr,thk] (grb2.east) -- (sos1.west);
  \draw[arr] (sos1.east) -- (hras.west);
  \draw[arr] (hras.east) -- (raf.west |- hras.east);
  \draw[arr,thk] ($(raf.east |- mapk.west)+(2.5,0)$) -- ($(mapk.west)+(-9,0)$) node[lab,midway,above=3pt]{+p};
  \draw[arr,thk] ($(mapk.east)+(-2.5,0)$) -- (erk.west |- mapk.east) node[lab,midway,above=3pt]{+p};
  \draw[arr,dsh] ([xshift=12pt,yshift=-2pt]erk.east) -- ([xshift=-11pt]twist1.south west);
  \draw[arr,dsh] ($(zeb1.east |- cdh2.west)+(10,0)$) -- ([xshift=-8pt]cdh2.west);
  \draw[inh,dsh] ($(zeb2.east |- cdh1.west)+(13,0)$) -- ([xshift=-11pt]cdh1.west);
  \draw[reg] ($(cdh2.east |- rg1)+(10,0)$) -- (rg1);

  % p38 connectors
  \draw[arr,thk] (map3k5.east) -- (map2k6.west);
  \draw[arr] (map2k6.east) -- (p38g.west |- map2k6.east);
  \draw[inh,dsh] ([yshift=3.75pt]p38g.east) -| ([xshift=-2.3pt,yshift=-8.6pt]cdh1.south);
  \draw[arr] ([xshift=-8pt,yshift=-22pt]p38g.west) -- ([yshift=2pt]smad2c.north) node[lab,pos=.46,above=1pt]{+p};

  % Nodal connectors
  \draw[inh] (lefty1.south) -- ([yshift=5pt]nodal.north);
  \draw[inh] (cer1.north) -- ([yshift=-5pt]gdf1.south);
  \draw[arr,thk] (gdf3.east) -- ($(acvr.west |- gdf3.east)+(-8,0)$);
  \draw[arr,dsh] (acvr.east) -- ([xshift=-9pt,yshift=-6.5pt]map3k5.west);
  \coordinate (ndbr) at (487,835);
  \draw[arr,thk] ([yshift=-8pt]acvr.east) -- (ndbr);
  \draw[arr] ([xshift=-10pt,yshift=4pt]smad3.south west) .. controls (489,816) and (487,852) .. ([xshift=-13pt,yshift=2pt]smad2p.west);
  \draw[arr,thk] ($(smad2p.south east)+(14,0)$) -- ($(sc234.west |- smad2p.south east)+(-4,0)$);
  \draw[line width=.8pt] (603,868.6) .. controls (590,872) and (588,893) .. (589,908)
    .. controls (590,930) and (594,940) .. (602,942.2)
    .. controls (594,944) and (588,955) .. (587.5,978)
    .. controls (587,1008) and (592,1020) .. (602,1022.7);
  \draw[inh] (smad6.north) -- ([yshift=-8pt]smad3p.south);
  \draw[inh] (smad7.south) -- ([yshift=6pt]smad5p.north);
  \draw[inh,dsh] ([xshift=-2.6pt,yshift=4pt]sc154.north) -- ([xshift=-7.75pt,yshift=-11.2pt]sc234.south);
  \draw[arr] ([xshift=5pt]sc234.east) -- ([xshift=-7pt,yshift=-3pt]eomes.west);
  \draw[arr,dsh] ([xshift=5pt]sc234.east) -- ([xshift=-19pt,yshift=2pt]spry2.west);
  \draw[arr,dsh] (sc234.east) -- ([xshift=-6.5pt]mixl1.west);
  \draw[inh] ([xshift=6pt,yshift=7pt]eomes.north east) -- ([xshift=-2pt,yshift=-15.5pt]cdh1.south west);
  \draw[arr,thk] ([xshift=-3.3pt,yshift=-4.2pt]eomes.south) |- (mesp1.west);
  \draw[arr,thk] ([xshift=-3.3pt,yshift=-4.2pt]eomes.south) |- ([yshift=-3pt]mesp2.west);
  \draw[reg] ($(mesp1.east |- rg2)+(6,0)$) -- (rg2);
  \draw[reg] ($(foxa2.east |- rg3)+(6,0)$) -- (rg3);

  % BMP connectors
  \draw[inh] (nog.south) -- ([yshift=14pt]bmp2.north);
  \draw[inh] (chrd.north) -- ([yshift=-9pt]bmp7.south);
  \draw[arr,thk] (bmp4.east |- bmpr.west) -- (bmpr.west);
  \draw[inh] (bambi.south) -- ([yshift=12pt]bmpr.north);
  \coordinate (bmbr) at (492.7,1052.9);
  \draw[arr,thk] ([xshift=4pt,yshift=-10pt]bmpr.east) -- (bmbr);
  \draw[arr] ([xshift=-5pt,yshift=-6pt]smad5.west) .. controls (492,1072) and (492,1040) .. ([xshift=-2pt,yshift=-2pt]smad1p.west);
  \draw[arr,thk] ($(smad5p.south east)+(18,0)$) -- ($(sc154.west |- smad5p.south east)+(-4,0)$);
  \draw[arr,dsh] (sc154.east) -- (id2.west);

  % Wnt connectors
  \draw[arr,thk] ($(wnt8a.east)+(8,0)$) -- ($(wnt8a.east -| fzd2.west)+(-5,0)$);
  \draw[inh] (cer1w.north) -- ([yshift=-5.5pt]wnt8a.south);
  \draw[inh] (dkk1.north) -- ([xshift=-23.8pt,yshift=-16.8pt]lrp6.south);
  \draw[arr,dsh] ($(fzd9.south east)+(3,0)$) -- ($(fzd9.south east -| dvl2.west)+(-8,0)$);
  \draw[inh,thk] ($(dvl2.east)+(8,0)$) -- ($(dvl2.east -| axin1.west)+(-11,0)$);
  \draw[reg] (gsk3bw.east |- rg5) -- (rg5);
  \draw[arr] (ctnnbd.east) .. controls (830,1190) and (852,1172) .. (852,1150) -- (ctnnbp.south);
  \draw[arr,thk] ([xshift=4pt]ctnnbpp.east) -- ([xshift=-9pt]ctnnbub.west);
  \draw[arr] (ctnnbd.east) -- (ctnnbc.west);
  \draw[arr,thk] ([xshift=3pt]ctnnbc.east) -- ([xshift=-5pt]ctnnbn.west);
  \draw[arr,dsh] ([xshift=9.3pt,yshift=9.7pt]ctnnbc.north east) -- ([xshift=3.2pt,yshift=-10.7pt]foxh1.south);
  \draw[reg] (tcf7l1.east |- rg4) -- (rg4);
  \draw[thk] ($(ctnnbn.south west)+(16,2)$) -- ++(140,0);
  \draw[-{Triangle[open,length=9pt,width=8pt]}, line width=.8pt] ($(ctnnbn.south west)+(146.5,2)$) |- ++(20,9.3);
\end{tikzpicture}
\end{document}
